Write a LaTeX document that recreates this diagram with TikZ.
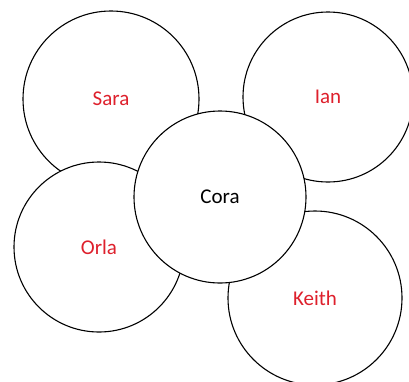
\documentclass[tikz,border=0pt]{standalone}
\usepackage{fontspec}
\setmainfont{Carlito}
\usepackage{xcolor}
\definecolor{nombre}{RGB}{222,32,44}

\begin{document}
\begin{tikzpicture}[x=1pt, y=-1pt,
    persona/.style={circle, draw=black, line width=1.1pt, fill=white, inner sep=0pt, font=\fontsize{21}{25}\selectfont}]
    % Marco de la figura
    \useasboundingbox (0,0) rectangle (409,381);

    % Circulos exteriores (por debajo del central)
    \node[persona, minimum size=176pt, text=nombre] (sara) at (111,99) {Sara};
    \node[persona, minimum size=170pt, text=nombre] (ian) at (328,97) {Ian};
    \node[persona, minimum size=170pt, text=nombre] (orla) at (99,247) {Orla};
    \node[persona, minimum size=174pt, text=nombre] (keith) at (315,298) {Keith};

    % Circulo central
    \node[persona, minimum size=172pt, text=black] (cora) at (220,197) {Cora};
\end{tikzpicture}
\end{document}
